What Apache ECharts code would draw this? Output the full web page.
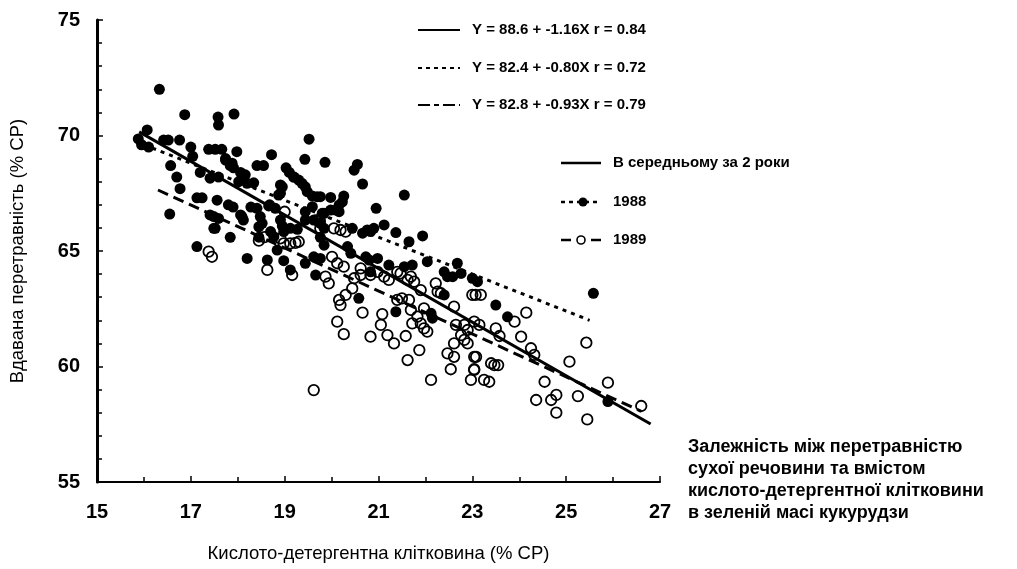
<!DOCTYPE html>
<html>
<head>
<meta charset="utf-8">
<script src="https://cdn.jsdelivr.net/npm/echarts@6/dist/echarts.min.js"></script>
<style>
  html, body { margin: 0; padding: 0; background: #ffffff; }
  #chart { width: 1017px; height: 569px; }
</style>
</head>
<body>
<div id="chart"></div>
<script>
// Acid-detergent fibre (% DM) vs apparent digestibility (% DM), maize silage

// 1988 samples: [ADF, digestibility]
const points1988 = [
  [16.33,72.0],[16.87,70.9],[17.58,70.8],[17.59,70.45],[17.92,70.93],[16.07,70.24],
  [15.88,69.85],[16.42,69.8],[16.52,69.8],[16.76,69.8],[17.0,69.5],[17.38,69.4],
  [17.52,69.4],[17.66,69.4],[17.98,69.3],[18.72,69.17],[17.04,69.1],[17.74,69.0],
  [17.84,68.7],[17.91,68.6],[16.57,68.7],[18.41,68.7],[18.55,68.7],[19.03,68.6],
  [18.06,68.4],[18.16,68.3],[18.09,68.2],[16.7,68.2],[17.2,68.4],[17.41,68.15],
  [17.59,68.2],[16.77,67.7],[18.34,67.95],[18.91,67.86],[18.87,67.42],[19.19,68.2],
  [17.13,67.3],[17.24,67.3],[17.56,67.2],[17.8,67.0],[17.9,66.9],[18.28,66.9],
  [18.41,66.85],[18.68,67.0],[16.55,66.6],[17.41,66.56],[18.06,66.56],[19.52,69.84],
  [19.43,68.97],[19.86,68.84],[20.55,68.75],[20.48,68.5],[20.66,67.9],[21.55,67.42],
  [20.95,66.85],[19.1,68.4],[19.2,68.2],[19.3,68.07],[19.37,67.93],[19.44,67.78],
  [19.48,67.57],[19.59,67.38],[19.69,67.35],[19.76,67.35],[19.98,67.32],[20.26,67.38],
  [20.23,67.13],[20.16,66.99],[20.09,66.77],[19.59,66.92],[19.8,66.63],[18.95,67.78],
  [18.91,67.5],[17.74,68.94],[17.88,68.8],[18.02,68.0],[18.2,67.93],[17.49,66.49],
  [17.59,66.41],[18.09,66.49],[18.12,66.34],[18.66,66.95],[18.8,66.85],[18.48,66.49],
  [18.52,66.2],[18.45,66.05],[18.91,66.34],[18.95,66.08],[17.49,65.98],[17.84,65.59],
  [18.7,65.84],[18.77,65.62],[19.12,65.98],[19.27,65.94],[19.44,66.34],[19.44,66.7],
  [19.62,66.34],[19.76,66.2],[19.84,65.98],[19.76,65.59],[19.84,65.25],[17.13,65.19],
  [18.45,65.6],[17.52,65.98],[18.2,64.68],[18.63,64.61],[18.98,64.58],[19.12,64.18],
  [18.84,65.04],[18.98,65.84],[19.84,66.63],[19.98,66.77],[20.16,66.7],[20.44,65.98],
  [20.66,65.77],[20.76,65.91],[20.83,65.84],[20.9,65.98],[21.12,66.13],[21.37,65.8],
  [21.94,65.65],[21.65,65.4],[19.44,64.47],[19.62,64.75],[19.76,64.68],[19.66,63.96],
  [20.34,65.19],[20.41,64.9],[20.73,64.75],[20.8,64.61],[20.98,64.68],[20.83,64.1],
  [21.22,64.39],[21.55,64.32],[21.72,64.39],[22.04,64.54],[22.4,64.1],[22.47,63.89],
  [22.58,63.89],[22.68,64.47],[23.0,63.82],[23.11,63.67],[22.4,63.1],[20.58,62.95],
  [21.37,62.37],[22.12,62.3],[22.15,62.09],[23.5,62.66],[23.75,62.15],[25.58,63.17],
  [22.76,64.03],[25.89,58.48],[15.95,69.6],[16.1,69.5]
];

// 1989 samples: [ADF, digestibility]
const points1989 = [
  [17.38,64.97],[17.45,64.75],[18.45,65.45],[18.91,65.55],[18.63,64.18],[19.16,63.96],
  [19.12,65.33],[19.23,65.35],[19.0,66.7],[19.75,66.3],[19.62,58.98],[20.12,61.94],
  [20.26,61.4],[20.83,61.29],[20.66,62.33],[21.08,62.27],[21.05,61.8],[21.19,61.36],
  [21.33,61.0],[21.58,61.32],[21.62,60.28],[21.87,60.71],[22.12,59.42],[22.47,60.57],
  [22.61,60.42],[22.61,61.0],[22.54,59.88],[22.97,59.42],[23.04,59.85],[23.08,60.42],
  [20.16,62.88],[20.19,62.66],[20.3,63.1],[20.44,63.38],[20.48,63.82],[20.62,63.96],
  [20.83,63.96],[19.94,63.6],[19.87,63.89],[20.01,64.75],[20.12,64.47],[20.26,64.32],
  [18.98,65.33],[19.3,65.4],[20.05,65.98],[20.19,65.91],[20.3,65.84],[19.76,65.98],
  [19.69,66.34],[20.62,64.25],[20.98,64.1],[21.12,63.89],[21.22,63.75],[21.4,64.1],
  [21.47,64.03],[21.62,63.75],[21.69,63.89],[21.4,62.88],[21.5,62.95],[21.65,62.88],
  [21.76,63.67],[21.9,63.31],[21.69,62.45],[21.83,62.16],[21.9,61.87],[21.72,61.87],
  [21.97,62.52],[22.22,63.6],[22.26,63.24],[22.33,63.17],[22.61,62.59],[22.04,61.51],
  [21.97,61.65],[22.76,61.36],[22.83,61.15],[22.9,61.0],[22.65,61.8],[23.0,63.1],
  [23.07,63.1],[23.18,63.1],[23.04,61.94],[24.15,62.33],[23.9,61.94],[23.5,61.65],
  [23.58,61.32],[24.04,61.29],[24.25,60.79],[24.32,60.5],[25.43,61.03],[23.04,60.42],
  [23.04,59.88],[23.25,59.42],[23.36,59.34],[23.4,60.14],[23.47,60.06],[23.55,60.06],
  [22.83,61.8],[22.9,61.58],[23.15,61.8],[25.07,60.21],[24.54,59.34],[24.79,58.77],
  [24.68,58.55],[24.36,58.55],[25.25,58.72],[24.79,58.0],[25.45,57.71],[25.89,59.3],
  [26.6,58.29],[18.57,65.6]
];

// Regression fits: Y = a + b·X, drawn over their X ranges
const fitNames      = ['В середньому за 2 роки', '1988', '1989'];
const fitIntercepts = [88.6, 82.4, 82.8];
const fitSlopes     = [-1.16, -0.80, -0.93];
const fitR          = [0.84, 0.72, 0.79];
const fitFrom       = [15.9, 16.0, 16.3];
const fitTo         = [26.8, 25.5, 26.6];

const xTickLabels = ['15', '17', '19', '21', '23', '25', '27'];
const yTickLabels = ['55', '60', '65', '70', '75'];

const xTitle = 'Кислото-детергентна клітковина (% СР)';
const yTitle = 'Вдавана перетравність (% СР)';
const captionLines = [
  'Залежність між перетравністю',
  'сухої речовини та вмістом',
  'кислото-детергентної клітковини',
  'в зеленій масі кукурудзи'
];

const FONT = '"Liberation Sans", Arial, Helvetica, sans-serif';

function fmt(v, d) { return v.toFixed(d); }
function equation(i) {
  return 'Y = ' + fmt(fitIntercepts[i], 1) + ' + ' + fmt(fitSlopes[i], 2) + 'X r = ' + fmt(fitR[i], 2);
}
function fitLine(i) {
  const a = fitIntercepts[i], b = fitSlopes[i];
  return [[fitFrom[i], a + b * fitFrom[i]], [fitTo[i], a + b * fitTo[i]]];
}

const fitStyles = [
  { type: 'solid', width: 3 },
  { type: [4, 5], width: 3 },
  { type: [11, 6], width: 3 }
];

const chart = echarts.init(document.getElementById('chart'), null, { renderer: 'canvas' });

// legend samples drawn beside the plot
const legendGraphics = [];
const eqY = [30, 68, 105];
const eqDash = [null, [4, 4], [12, 4, 5, 4]];
for (let i = 0; i < 3; i++) {
  legendGraphics.push({
    type: 'line', shape: { x1: 418, y1: eqY[i], x2: 460, y2: eqY[i] },
    style: { stroke: '#000', lineWidth: 2, lineDash: eqDash[i] }
  });
  legendGraphics.push({
    type: 'text', x: 472, y: eqY[i],
    style: { text: equation(i), font: 'bold 15px ' + FONT, fill: '#000', verticalAlign: 'middle' }
  });
}
const keyY = [163, 202, 240];
legendGraphics.push({
  type: 'line', shape: { x1: 561, y1: keyY[0], x2: 601, y2: keyY[0] },
  style: { stroke: '#000', lineWidth: 2.5 }
});
legendGraphics.push({
  type: 'line', shape: { x1: 561, y1: keyY[1], x2: 601, y2: keyY[1] },
  style: { stroke: '#000', lineWidth: 2.5, lineDash: [4, 4] }
});
legendGraphics.push({
  type: 'circle', shape: { cx: 583, cy: keyY[1], r: 4.5 }, style: { fill: '#000' }
});
legendGraphics.push({
  type: 'line', shape: { x1: 561, y1: keyY[2], x2: 571, y2: keyY[2] },
  style: { stroke: '#000', lineWidth: 2.5 }
});
legendGraphics.push({
  type: 'line', shape: { x1: 591, y1: keyY[2], x2: 601, y2: keyY[2] },
  style: { stroke: '#000', lineWidth: 2.5 }
});
legendGraphics.push({
  type: 'circle', shape: { cx: 581, cy: keyY[2], r: 4 },
  style: { fill: '#fff', stroke: '#000', lineWidth: 1.6 }
});
for (let i = 0; i < 3; i++) {
  legendGraphics.push({
    type: 'text', x: 613, y: keyY[i],
    style: { text: fitNames[i], font: 'bold 15px ' + FONT, fill: '#000', verticalAlign: 'middle' }
  });
}
legendGraphics.push({
  type: 'text', x: 688, y: 436,
  style: {
    text: captionLines.join('\n'), font: 'bold 18px ' + FONT, fill: '#000',
    lineHeight: 22, verticalAlign: 'top'
  }
});

const option = {
  backgroundColor: '#ffffff',
  animation: false,
  grid: { left: 97, right: 357, top: 20, bottom: 87 },
  xAxis: {
    type: 'value', min: 15, max: 27, interval: 2,
    axisLine: { lineStyle: { color: '#000', width: 2 } },
    axisTick: { inside: true, length: 6, lineStyle: { color: '#000', width: 1.5 } },
    minorTick: { show: true, splitNumber: 2, length: 5, lineStyle: { color: '#000', width: 1.5 } },
    splitLine: { show: false },
    axisLabel: {
      margin: 20, color: '#000', fontFamily: FONT, fontWeight: 'bold', fontSize: 20,
      formatter: v => xTickLabels[Math.round((v - 15) / 2)] || ''
    },
    name: xTitle, nameLocation: 'middle', nameGap: 62,
    nameTextStyle: { color: '#000', fontFamily: FONT, fontSize: 18.5 }
  },
  yAxis: {
    type: 'value', min: 55, max: 75, interval: 5,
    axisLine: { lineStyle: { color: '#000', width: 3 } },
    axisTick: { inside: true, length: 6, lineStyle: { color: '#000', width: 1.5 } },
    minorTick: { show: true, splitNumber: 5, length: 5, lineStyle: { color: '#000', width: 1.5 } },
    splitLine: { show: false },
    axisLabel: {
      margin: 17, color: '#000', fontFamily: FONT, fontWeight: 'bold', fontSize: 20,
      formatter: v => yTickLabels[Math.round((v - 55) / 5)] || ''
    },
    name: yTitle, nameLocation: 'middle', nameGap: 70, nameRotate: 90,
    nameTextStyle: { color: '#000', fontFamily: FONT, fontSize: 18.5 }
  },
  graphic: legendGraphics,
  series: [
    {
      name: '1988 точки', type: 'scatter', data: points1988,
      symbol: 'circle', symbolSize: 11,
      itemStyle: { color: '#000', opacity: 1 }, z: 2
    },
    {
      name: '1989 точки', type: 'scatter', data: points1989,
      symbol: 'circle', symbolSize: 10.5,
      itemStyle: { color: 'rgba(0,0,0,0)', borderColor: '#000', borderWidth: 1.8, opacity: 1 }, z: 2
    }
  ].concat(fitNames.map((n, i) => ({
    name: n, type: 'line', data: fitLine(i), showSymbol: false, symbol: 'none',
    lineStyle: { color: '#000', width: fitStyles[i].width, type: fitStyles[i].type },
    z: 3, silent: true
  })))
};

chart.setOption(option);
</script>
</body>
</html>
